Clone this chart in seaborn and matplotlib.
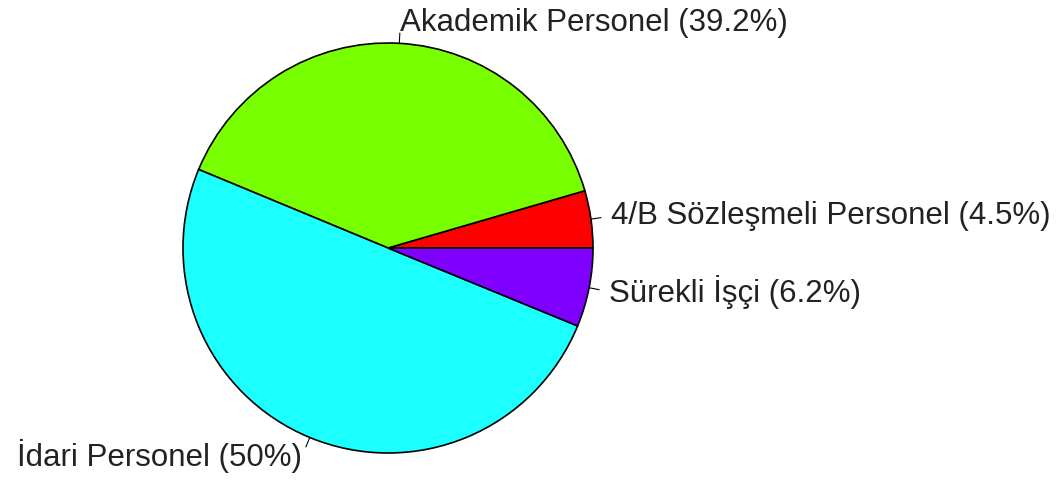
import numpy as np
import matplotlib
matplotlib.use("Agg")
import matplotlib.pyplot as plt
import seaborn as sns

categories = ["4/B Sözleşmeli Personel", "Akademik Personel", "İdari Personel", "Sürekli İşçi"]
percents = [4.5, 39.2, 50.0, 6.2]
labels = ["4/B Sözleşmeli Personel (4.5%)", "Akademik Personel (39.2%)",
          "İdari Personel (50%)", "Sürekli İşçi (6.2%)"]
colors = sns.color_palette(["#FF0000", "#78FF00", "#1CFFFF", "#7F00FF"])

sns.set_style("white")
plt.rcParams['font.family'] = ['Liberation Sans', 'DejaVu Sans']

W, H = 1061, 484
cx, cy, r = 388, 248, 205
fig = plt.figure(figsize=(W / 100, H / 100), dpi=100)
ax = fig.add_axes([0, 0, 1, 1])

# pie like R's default: counter-clockwise from 3 o'clock
ax.pie(percents, colors=colors, startangle=0, counterclock=True, radius=1,
       wedgeprops=dict(edgecolor="black", linewidth=1.2))

# labels with small tick marks
frac = np.array(percents) / np.sum(percents)
edges = np.concatenate([[0], np.cumsum(frac)]) * 2 * np.pi
for i, lab in enumerate(labels):
    a = (edges[i] + edges[i + 1]) / 2
    c, s = np.cos(a), np.sin(a)
    ax.plot([c, 1.05 * c], [s, 1.05 * s], color="black", lw=0.8)
    ax.text(1.1 * c, 1.1 * s, lab, ha="left" if c > 0 else "right",
            va="center", fontsize=22.5, color="#222222")

ax.set_xlim(-cx / r, (W - cx) / r)
ax.set_ylim(-(H - cy) / r, cy / r)
ax.set_aspect("equal")
ax.axis("off")

fig.savefig("out.png", dpi=100, facecolor="white")
